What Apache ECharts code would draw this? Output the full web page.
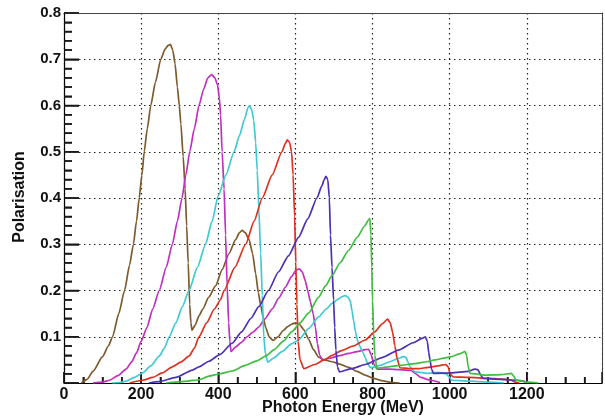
<!DOCTYPE html>
<html><head><meta charset="utf-8">
<script src="https://cdn.jsdelivr.net/npm/echarts@6/dist/echarts.min.js"></script>
<style>html,body{margin:0;padding:0;background:#fff}#c{width:605px;height:419px}</style>
</head><body><div id="c"></div>
<script>
const xTickLabels = ['0','200','400','600','800','1000','1200'];
const yTickLabels = ['','0.1','0.2','0.3','0.4','0.5','0.6','0.7','0.8'];
const seriesNames = ['brown','magenta','cyan','red','blue','green'];
const brown = [[45,0],[60,0.008],[75,0.025],[100,0.057],[115,0.08],[126,0.1],[142,0.15],[157,0.2],[170,0.255],[180,0.3],[188,0.35],[195,0.4],[202,0.45],[208,0.5],[216,0.55],[225,0.6],[237,0.65],[251,0.7],[262,0.722],[270,0.73],[276,0.732],[282,0.72],[288,0.69],[294,0.64],[299,0.6],[303,0.56],[309,0.49],[314,0.42],[318,0.34],[322,0.26],[326,0.17],[329,0.13],[332,0.114],[340,0.125],[350,0.145],[360,0.16],[375,0.185],[393,0.21],[410,0.245],[428,0.28],[445,0.31],[455,0.325],[462,0.33],[470,0.325],[480,0.31],[489,0.28],[497,0.236],[504,0.195],[510,0.168],[517,0.14],[523,0.12],[532,0.1],[542,0.092],[555,0.1],[568,0.113],[580,0.122],[592,0.128],[600,0.13],[610,0.127],[622,0.115],[634,0.095],[647,0.072],[660,0.056],[675,0.05],[695,0.046],[715,0.041],[738,0.034],[760,0.025],[781,0.017],[803,0.01],[824,0.005],[850,0.001],[870,0]];
const magenta = [[75,0],[100,0.002],[118,0.006],[140,0.016],[161,0.03],[175,0.045],[188,0.065],[200,0.09],[215,0.12],[230,0.16],[247,0.2],[265,0.25],[281,0.3],[294,0.35],[306,0.4],[316,0.45],[326,0.5],[338,0.55],[350,0.6],[362,0.635],[373,0.66],[383,0.667],[391,0.66],[398,0.645],[403,0.615],[406,0.58],[410,0.5],[415,0.42],[419,0.32],[423,0.21],[427,0.13],[430,0.09],[433,0.068],[445,0.078],[460,0.088],[475,0.1],[490,0.11],[505,0.121],[520,0.138],[540,0.16],[557,0.184],[574,0.207],[590,0.23],[602,0.244],[610,0.247],[618,0.24],[626,0.22],[632,0.2],[639,0.175],[646,0.15],[652,0.12],[657,0.085],[663,0.06],[670,0.05],[690,0.054],[715,0.059],[738,0.064],[760,0.068],[781,0.072],[790,0.073],[797,0.06],[804,0.04],[812,0.03],[840,0.03],[870,0.029],[900,0.027],[912,0.02],[925,0.012],[950,0.006],[975,0.001]];
const cyan = [[125,0],[145,0.001],[161,0.004],[183,0.012],[204,0.022],[225,0.037],[247,0.058],[260,0.075],[273,0.1],[290,0.13],[307,0.165],[324,0.2],[346,0.25],[367,0.3],[384,0.35],[400,0.405],[420,0.45],[441,0.5],[455,0.535],[468,0.57],[477,0.595],[481,0.6],[487,0.59],[492,0.568],[497,0.52],[501,0.46],[505,0.38],[510,0.28],[514,0.19],[518,0.1],[522,0.065],[528,0.045],[545,0.055],[565,0.068],[591,0.085],[608,0.093],[635,0.118],[660,0.143],[680,0.16],[695,0.172],[712,0.182],[722,0.187],[729,0.189],[736,0.186],[742,0.178],[747,0.155],[751,0.135],[756,0.11],[761,0.092],[768,0.078],[775,0.066],[781,0.055],[787,0.042],[795,0.033],[820,0.038],[845,0.046],[867,0.053],[880,0.057],[886,0.056],[892,0.045],[898,0.034],[910,0.024],[944,0.021],[970,0.023],[990,0.02],[998,0.014],[1005,0.006],[1050,0.004],[1100,0.002],[1140,0]];
const red = [[170,0],[204,0.006],[230,0.012],[255,0.022],[281,0.035],[303,0.045],[324,0.058],[338,0.075],[350,0.1],[370,0.13],[390,0.16],[406,0.18],[415,0.2],[443,0.25],[471,0.3],[493,0.35],[514,0.4],[540,0.45],[565,0.5],[574,0.518],[579,0.526],[585,0.52],[590,0.5],[594,0.45],[598,0.36],[601,0.26],[604,0.17],[607,0.09],[612,0.05],[622,0.031],[650,0.04],[675,0.05],[695,0.06],[720,0.07],[750,0.08],[781,0.093],[805,0.11],[825,0.128],[839,0.138],[846,0.13],[852,0.11],[858,0.08],[864,0.052],[871,0.033],[895,0.031],[920,0.031],[945,0.034],[970,0.037],[990,0.04],[996,0.035],[1002,0.018],[1010,0.013],[1050,0.012],[1100,0.01],[1143,0.008],[1160,0.006],[1170,0.002],[1180,0]];
const blue = [[220,0],[247,0.003],[290,0.012],[333,0.028],[350,0.035],[376,0.047],[405,0.062],[436,0.086],[460,0.11],[485,0.14],[505,0.165],[530,0.2],[556,0.24],[582,0.275],[608,0.315],[632,0.355],[656,0.4],[668,0.425],[675,0.44],[679,0.447],[684,0.44],[688,0.4],[691,0.32],[695,0.25],[699,0.179],[702,0.12],[705,0.071],[709,0.035],[714,0.024],[745,0.031],[781,0.04],[825,0.055],[867,0.071],[905,0.087],[930,0.097],[937,0.1],[942,0.09],[946,0.065],[949,0.05],[953,0.03],[958,0.021],[1005,0.022],[1048,0.025],[1065,0.03],[1073,0.029],[1080,0.018],[1086,0.01],[1134,0.008],[1175,0.006],[1190,0.004],[1205,0]];
const green = [[265,0],[290,0.002],[320,0.004],[350,0.007],[376,0.015],[405,0.02],[436,0.026],[470,0.038],[500,0.048],[523,0.058],[545,0.072],[568,0.09],[591,0.111],[612,0.13],[634,0.151],[660,0.185],[678,0.21],[695,0.232],[716,0.26],[738,0.287],[760,0.315],[780,0.34],[790,0.353],[793,0.356],[796,0.32],[798,0.25],[800,0.18],[803,0.107],[806,0.06],[811,0.032],[840,0.035],[870,0.038],[910,0.042],[940,0.046],[962,0.05],[985,0.054],[1005,0.057],[1025,0.063],[1040,0.068],[1044,0.06],[1048,0.035],[1053,0.021],[1091,0.017],[1134,0.018],[1160,0.021],[1166,0.015],[1172,0.006],[1203,0.002],[1230,0]];

const dataSets = [brown, magenta, cyan, red, blue, green];
const colors = ['#7d5a2b','#c02fc0','#3fc9d3','#e0301e','#4b2fb5','#3fbf3f'];
const FONT = '"Liberation Sans", Arial, sans-serif';
const X_MAX = 1395, Y_MAX = 0.8, X_INT = 200, Y_INT = 0.1, X_MINOR = 4, Y_MINOR = 5;
const TICK = '#1a1a1a';
const chart = echarts.init(document.getElementById('c'));
chart.setOption({
  animation:false,
  backgroundColor:'#ffffff',
  grid:{left:64,right:2,top:13,bottom:36},
  xAxis:[
    {type:'value',min:0,max:X_MAX,interval:X_INT,position:'bottom',
      axisLine:{show:true,onZero:false,lineStyle:{color:'#000',width:1.2}},
      axisTick:{show:true,inside:true,length:11,lineStyle:{color:TICK,width:1.5}},
      minorTick:{show:true,splitNumber:X_MINOR,length:6,lineStyle:{color:TICK,width:1.5}},
      splitLine:{show:true,lineStyle:{color:'#222',type:[1.5,3.5],width:1.2}},
      axisLabel:{fontFamily:FONT,fontWeight:'bold',fontSize:16,color:'#111',margin:4,
        formatter:function(v){const i=Math.round(v/X_INT);return (Math.abs(v-i*X_INT)<1e-6 && xTickLabels[i]!==undefined)?xTickLabels[i]:'';}}},
    {type:'value',min:0,max:X_MAX,interval:X_INT,position:'top',
      axisLine:{show:true,onZero:false,lineStyle:{color:'#444',width:1}},
      axisTick:{show:false},axisLabel:{show:false},splitLine:{show:false}}
  ],
  yAxis:[
    {type:'value',min:0,max:Y_MAX,interval:Y_INT,position:'left',
      axisLine:{show:true,onZero:false,lineStyle:{color:'#000',width:1.2}},
      axisTick:{show:true,inside:true,length:15,lineStyle:{color:TICK,width:1.5}},
      minorTick:{show:true,splitNumber:Y_MINOR,length:8,lineStyle:{color:TICK,width:1.5}},
      splitLine:{show:true,lineStyle:{color:'#222',type:[1.5,3.5],width:1.2}},
      axisLabel:{fontFamily:FONT,fontWeight:'bold',fontSize:15,color:'#111',margin:3,
        formatter:function(v){const i=Math.round(v/Y_INT);return yTickLabels[i]||'';}}},
    {type:'value',min:0,max:Y_MAX,interval:Y_INT,position:'right',
      axisLine:{show:true,onZero:false,lineStyle:{color:'#444',width:1}},
      axisTick:{show:false},axisLabel:{show:false},splitLine:{show:false}}
  ],
  series:dataSets.map((d,i)=>({name:seriesNames[i],type:'line',data:d,showSymbol:false,
    xAxisIndex:0,yAxisIndex:0,smooth:0.2,smoothMonotone:'x',
    lineStyle:{color:colors[i],width:1.7},clip:true}))
});
const extra = [
  {type:'text',x:20,y:197,rotation:Math.PI/2,style:{text:'Polarisation',fontFamily:FONT,fontWeight:'bold',fontSize:16,fill:'#111',align:'center',verticalAlign:'middle'}},
  {type:'text',x:343,y:408,style:{text:'Photon Energy (MeV)',fontFamily:FONT,fontWeight:'bold',fontSize:16,fill:'#111',align:'center',verticalAlign:'middle'}}
];
try {
  const x0 = chart.convertToPixel({xAxisIndex:0}, 0);
  const y0 = chart.convertToPixel({yAxisIndex:0}, 0);
  const xs = X_INT / X_MINOR, ys = Y_INT / Y_MINOR;
  for (let k = 0; k * xs <= X_MAX; k++) {
    const p = chart.convertToPixel({xAxisIndex:0}, k * xs);
    const len = (k % X_MINOR === 0) ? 11 : 6;
    extra.push({type:'line',shape:{x1:p,y1:y0,x2:p,y2:y0-len},style:{stroke:TICK,lineWidth:1.5}});
  }
  for (let k = 0; k * ys <= Y_MAX + 1e-9; k++) {
    const p = chart.convertToPixel({yAxisIndex:0}, k * ys);
    const len = (k % Y_MINOR === 0) ? 15 : 8;
    extra.push({type:'line',shape:{x1:x0,y1:p,x2:x0+len,y2:p},style:{stroke:TICK,lineWidth:1.5}});
  }
} catch (e) {}
chart.setOption({graphic: extra});
</script></body></html>
